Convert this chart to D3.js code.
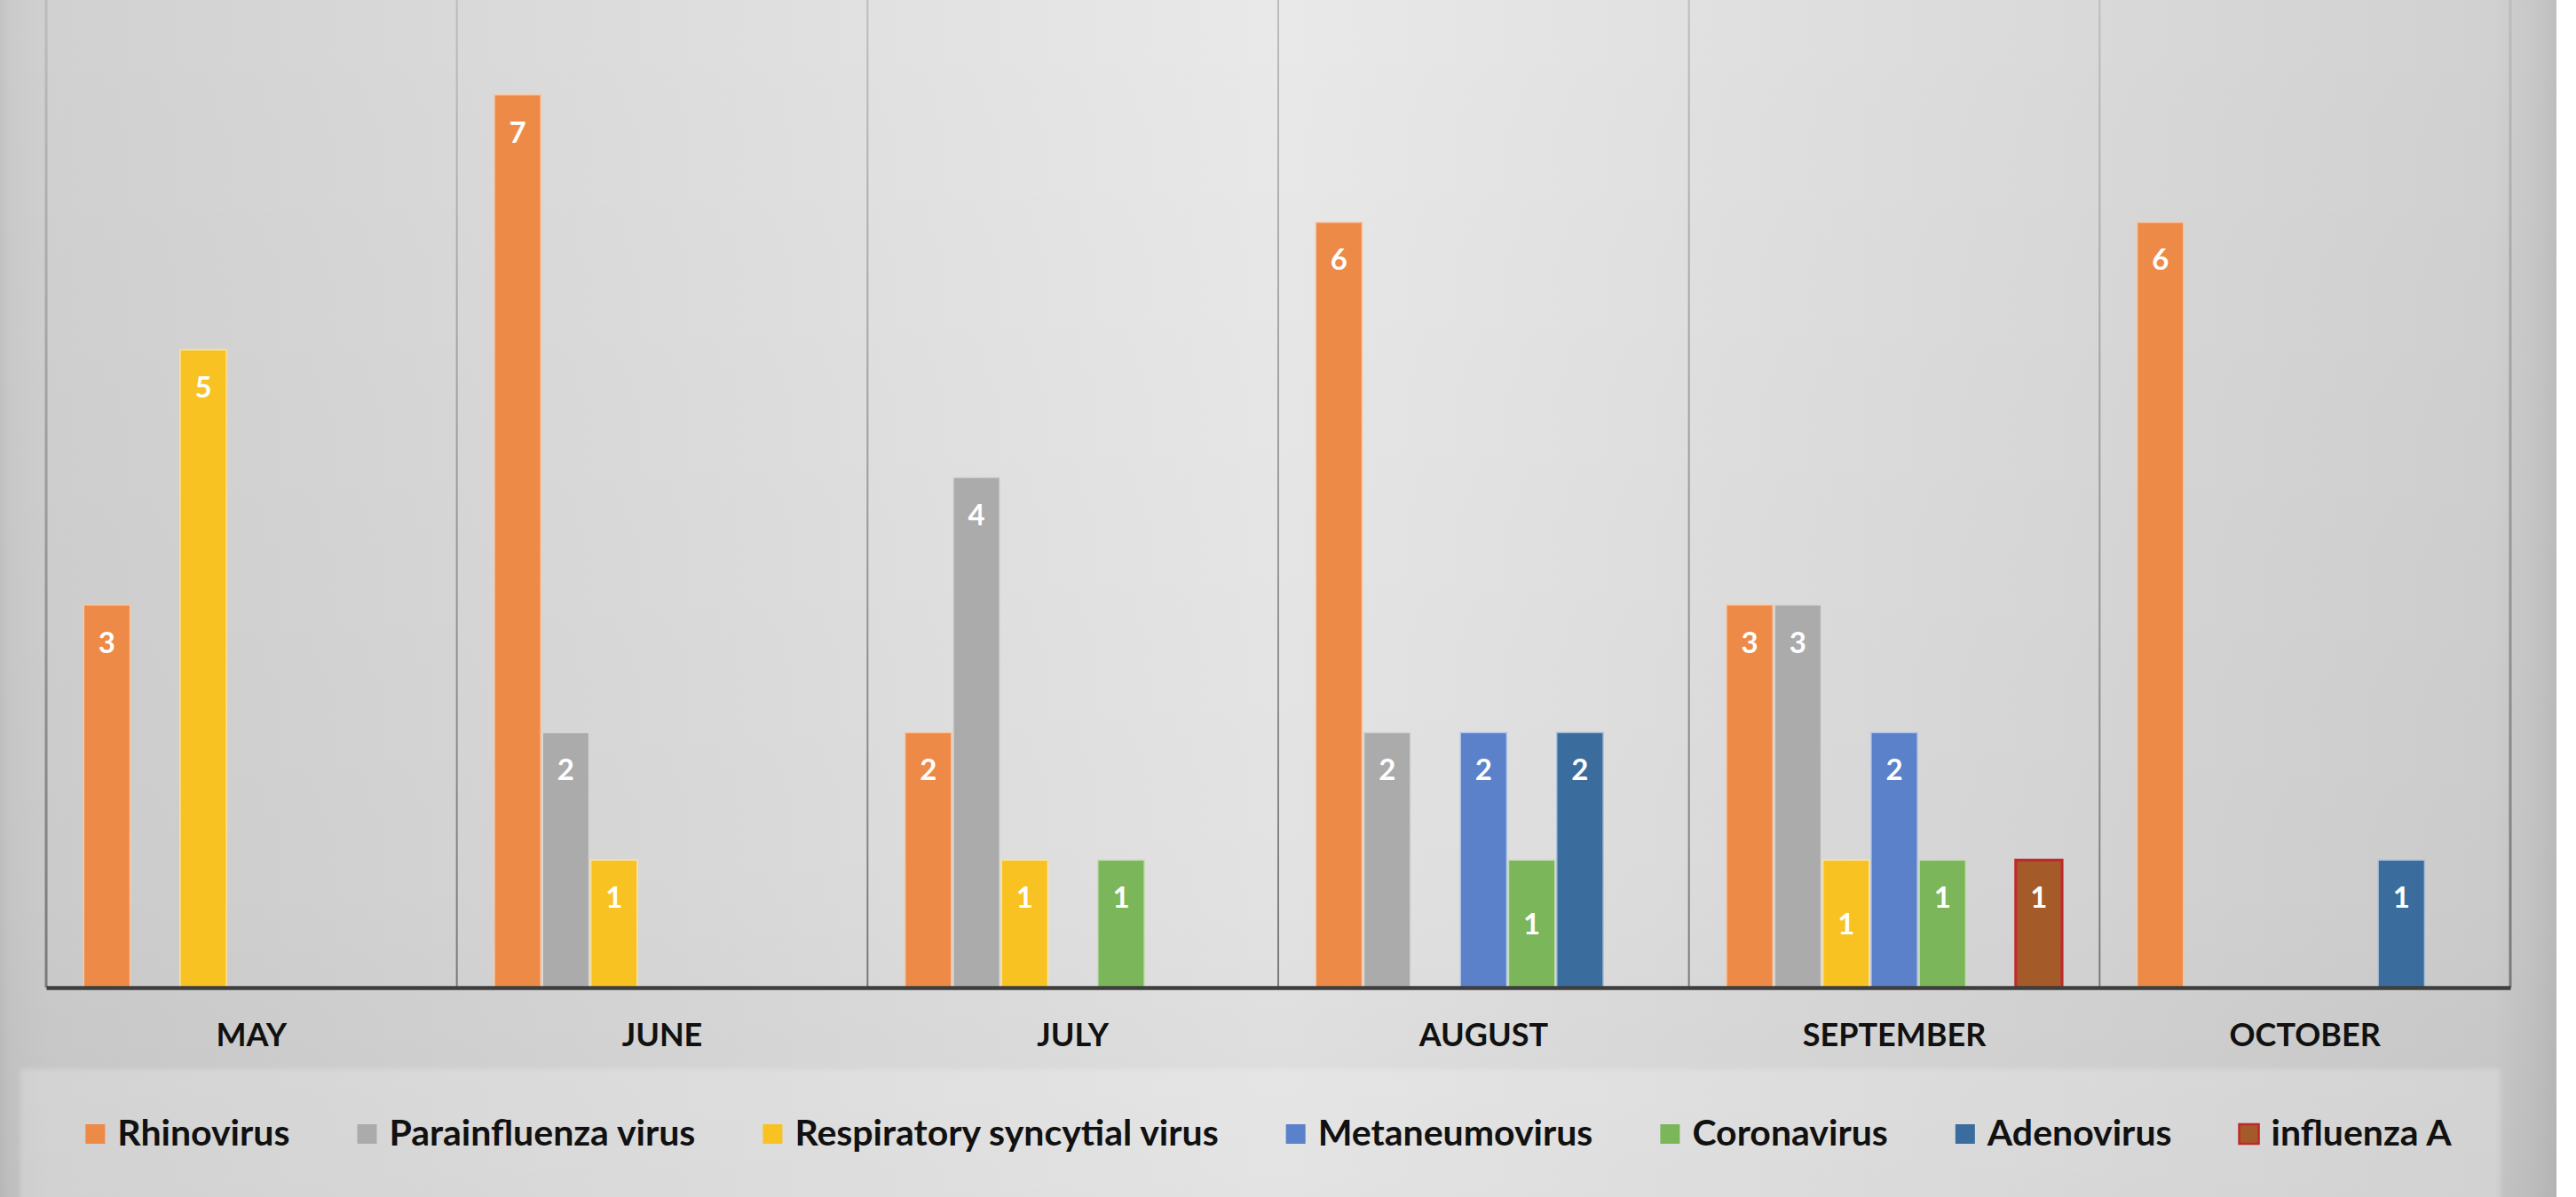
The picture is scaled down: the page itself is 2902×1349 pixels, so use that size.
<!DOCTYPE html>
<html>
<head>
<meta charset="utf-8">
<script src="https://cdn.jsdelivr.net/npm/d3@7"></script>
<style>
  html, body { margin: 0; padding: 0; background: #ffffff; }
  svg { display: block; }
  text { font-family: Lato, "Open Sans", sans-serif; }
</style>
</head>
<body>
<svg id="chart" width="2902" height="1349"></svg>
<script>
// Monthly detections per virus
const months = ["MAY", "JUNE", "JULY", "AUGUST", "SEPTEMBER", "OCTOBER"];
const seriesNames = ["Rhinovirus", "Parainfluenza virus", "Respiratory syncytial virus",
  "Metaneumovirus", "Coronavirus", "Adenovirus", "influenza A"];
const rhinovirus    = [3, 7, 2, 6, 3, 6];
const parainfluenza = [null, 2, 4, 2, 3, null];
const rsv           = [5, 1, 1, null, 1, null];
const metaneumo     = [null, null, null, 2, 2, null];
const coronavirus   = [null, null, 1, 1, 1, null];
const adenovirus    = [null, null, null, 2, null, 1];
const influenzaA    = [null, null, null, null, 1, null];
const seriesValues = [rhinovirus, parainfluenza, rsv, metaneumo, coronavirus, adenovirus, influenzaA];
const yTicks = [0, 8];

// Styling
const fills   = ["#ED8A48", "#ABABAB", "#F8C322", "#5A81C9", "#7CB65A", "#3A6D9D", "#A55A2A"];
const strokes = ["#F6C9A8", "#D6D6D6", "#FBE3A0", "#B6C8EA", "#C3DDB2", "#A9BFD6", "#C0282A"];
// labels that sit in the middle of their bar instead of near its top
const centeredLabels = new Set(["AUGUST|Coronavirus", "SEPTEMBER|Respiratory syncytial virus"]);

const W = 2902, H = 1349;
const chartW = 2880;
const plot = { left: 52, right: 2828, top: -37, bottom: 1113 };

const svg = d3.select("#chart");
const defs = svg.append("defs");

const bgGrad = defs.append("linearGradient").attr("id", "bg")
  .attr("gradientUnits", "userSpaceOnUse").attr("x1", 0).attr("x2", chartW).attr("y1", 0).attr("y2", 0);
[[0, "#C3C3C3"], [0.004, "#CBCBCB"], [0.02, "#D1D1D1"], [0.5, "#E9E9E9"],
 [0.975, "#D1D1D1"], [0.993, "#C6C6C6"], [1, "#BEBEBE"]]
  .forEach(([o, c]) => bgGrad.append("stop").attr("offset", o).attr("stop-color", c));

const shade = defs.append("linearGradient").attr("id", "shade")
  .attr("x1", 0).attr("x2", 0).attr("y1", 0).attr("y2", 1);
shade.append("stop").attr("offset", 0).attr("stop-color", "#000").attr("stop-opacity", 0);
shade.append("stop").attr("offset", 0.75).attr("stop-color", "#000").attr("stop-opacity", 0.03);
shade.append("stop").attr("offset", 1).attr("stop-color", "#000").attr("stop-opacity", 0.06);

const lineGrad = defs.append("linearGradient").attr("id", "sepLine")
  .attr("gradientUnits", "userSpaceOnUse").attr("x1", 0).attr("x2", 0).attr("y1", 0).attr("y2", plot.bottom);
lineGrad.append("stop").attr("offset", 0).attr("stop-color", "#BDBDBD");
lineGrad.append("stop").attr("offset", 1).attr("stop-color", "#7A7A7A");

const soft = defs.append("filter").attr("id", "soft").attr("x", "-5%").attr("y", "-5%")
  .attr("width", "110%").attr("height", "110%");
soft.append("feGaussianBlur").attr("stdDeviation", 2.5);

// chart area
svg.append("rect").attr("x", 0).attr("y", 0).attr("width", chartW).attr("height", H).attr("fill", "url(#bg)");
svg.append("rect").attr("x", 0).attr("y", 0).attr("width", chartW).attr("height", H).attr("fill", "url(#shade)");

// scales
const x0 = d3.scaleBand().domain(months).range([plot.left, plot.right]).paddingInner(0).paddingOuter(0);
const x1 = d3.scaleBand().domain(seriesNames).range([0, x0.bandwidth()]).paddingInner(0).paddingOuter(0.76);
const y = d3.scaleLinear().domain(d3.extent(yTicks)).range([plot.bottom, plot.top]);

// category separators
const seps = months.map(m => x0(m)).concat([plot.right]);
svg.append("g").selectAll("line").data(seps).join("line")
  .attr("x1", d => d).attr("x2", d => d)
  .attr("y1", 0).attr("y2", plot.bottom)
  .attr("stroke", "url(#sepLine)")
  .attr("stroke-width", (d, i) => (i === 0 || i === seps.length - 1) ? 3 : 2);

// bars
const barData = [];
seriesNames.forEach((s, si) => {
  seriesValues[si].forEach((v, mi) => {
    if (v != null) barData.push({ series: s, si, month: months[mi], value: v });
  });
});

const gBars = svg.append("g");
gBars.selectAll("rect").data(barData).join("rect")
  .attr("x", d => x0(d.month) + x1(d.series) + 1)
  .attr("y", d => y(d.value))
  .attr("width", x1.bandwidth() - 2)
  .attr("height", d => y(0) - y(d.value))
  .attr("fill", d => fills[d.si])
  .attr("stroke", d => strokes[d.si])
  .attr("stroke-width", d => d.series === "influenza A" ? 3 : 1.5);

// value labels
gBars.selectAll("text").data(barData).join("text")
  .attr("x", d => x0(d.month) + x1(d.series) + x1.bandwidth() / 2)
  .attr("y", d => centeredLabels.has(d.month + "|" + d.series)
    ? (y(d.value) + y(0)) / 2
    : y(d.value) + 42)
  .attr("dy", "0.36em")
  .attr("text-anchor", "middle")
  .attr("fill", "#FFFFFF")
  .attr("font-weight", 700)
  .attr("font-size", 33)
  .text(d => d.value);

// category axis
const axis = svg.append("g").attr("transform", `translate(0,${plot.bottom})`)
  .call(d3.axisBottom(x0).tickSize(0).tickSizeOuter(0).tickPadding(40));
axis.select(".domain").attr("stroke", "#3E3E3E").attr("stroke-width", 4.5);
axis.selectAll(".tick text")
  .attr("font-family", "Lato, sans-serif")
  .attr("font-size", 36)
  .attr("font-weight", 700)
  .attr("fill", "#111111");

// legend
const legendBox = { x: 23, y: 1205, w: 2794, h: 160 };
svg.append("rect")
  .attr("x", legendBox.x).attr("y", legendBox.y)
  .attr("width", legendBox.w).attr("height", legendBox.h)
  .attr("fill", "#FFFFFF").attr("fill-opacity", 0.22)
  .attr("filter", "url(#soft)");

const legend = svg.append("g");
const sw = 22, swGap = 14, itemGap = 76, legendCenter = 1429, baseline = 1291;
const items = legend.selectAll("g").data(seriesNames).join("g");
items.append("text")
  .attr("y", baseline)
  .attr("font-size", 41)
  .attr("font-weight", 700)
  .attr("fill", "#111111")
  .text(d => d);
const widths = [];
items.select("text").each(function () { widths.push(this.getComputedTextLength()); });
const total = d3.sum(widths) + seriesNames.length * (sw + swGap) + (seriesNames.length - 1) * itemGap;
let cx = legendCenter - total / 2;
items.each(function (d, i) {
  const g = d3.select(this);
  g.insert("rect", "text")
    .attr("x", cx).attr("y", baseline - 24)
    .attr("width", sw).attr("height", sw)
    .attr("fill", fills[i])
    .attr("stroke", d === "influenza A" ? strokes[i] : "none")
    .attr("stroke-width", 2.5);
  g.select("text").attr("x", cx + sw + swGap);
  cx += sw + swGap + widths[i] + itemGap;
});
</script>
</body>
</html>
